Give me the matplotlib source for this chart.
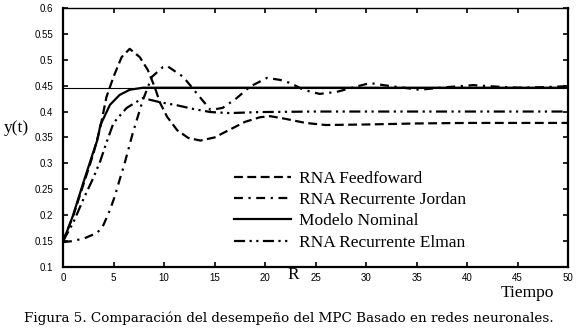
import matplotlib
matplotlib.use("Agg")
import matplotlib.pyplot as plt

# Values
t_ff = [0, 1, 2, 3, 3.7, 4.3, 5.0, 5.8, 6.6, 7.6, 8.4, 9.1, 9.6, 10.3, 11.3, 12.4,
        13.6, 15.0, 16.5, 18.0, 19.5, 20.5, 22.0, 24.0, 26.0, 30, 35, 40, 45, 50]
y_ff = [0.150, 0.198, 0.258, 0.318, 0.370, 0.428, 0.467, 0.505, 0.521, 0.505, 0.480,
        0.446, 0.417, 0.390, 0.364, 0.349, 0.344, 0.350, 0.365, 0.380, 0.389, 0.391,
        0.386, 0.378, 0.374, 0.375, 0.377, 0.378, 0.378, 0.378]

t_jor = [0, 1, 2.2, 3.4, 4.0, 4.65, 5.1, 5.6, 6.1, 6.9, 7.9, 8.8, 9.9, 10.3, 11.9,
         13.2, 14.6, 15.8, 17.2, 18.5, 20.2, 21.5, 22.5, 23.8, 25.4, 27.1, 28.8,
         30.4, 31.7, 33.7, 35.3, 37.3, 40.6, 43.0, 45.0, 47.5, 50]
y_jor = [0.148, 0.150, 0.156, 0.166, 0.181, 0.210, 0.235, 0.268, 0.300, 0.358, 0.422,
         0.467, 0.486, 0.488, 0.467, 0.436, 0.403, 0.407, 0.426, 0.448, 0.465, 0.461,
         0.455, 0.442, 0.434, 0.438, 0.447, 0.455, 0.451, 0.446, 0.442, 0.446, 0.451,
         0.448, 0.446, 0.447, 0.449]

t_nom = [0, 1, 2, 3, 3.4, 3.7, 4.65, 5.6, 6.6, 7.9, 9, 10, 20, 30, 40, 50]
y_nom = [0.148, 0.200, 0.262, 0.322, 0.345, 0.374, 0.413, 0.432, 0.442, 0.446,
         0.446, 0.446, 0.446, 0.446, 0.446, 0.446]

t_elm = [0, 1, 2, 3, 3.7, 4.3, 5.0, 6.3, 7.9, 9.6, 11.3, 12.9, 14.6, 16.5, 19.5,
         25, 30, 40, 50]
y_elm = [0.150, 0.185, 0.230, 0.272, 0.305, 0.340, 0.378, 0.407, 0.426, 0.418, 0.412,
         0.405, 0.399, 0.397, 0.399, 0.400, 0.400, 0.400, 0.400]

ref_level = 0.446

labels = ["RNA Feedfoward", "RNA Recurrente Jordan", "Modelo Nominal",
          "RNA Recurrente Elman"]
x_ticks = [0, 5, 10, 15, 20, 25, 30, 35, 40, 45, 50]
x_ticklabels = ["0", "5", "10", "15", "20", "25", "30", "35", "40", "45", "50"]
y_ticks = [0.1, 0.15, 0.2, 0.25, 0.3, 0.35, 0.4, 0.45, 0.5, 0.55, 0.6]
y_ticklabels = ["0.1", "0.15", "0.2", "0.25", "0.3", "0.35", "0.4", "0.45", "0.5",
                "0.55", "0.6"]

serif = ["Liberation Serif", "DejaVu Serif"]
sans = ["Liberation Sans", "DejaVu Sans"]

fig = plt.figure(figsize=(5.78, 3.30), dpi=100)
ax = fig.add_axes([0.109, 0.191, 0.874, 0.785])

ax.axhline(ref_level, color="black", linewidth=0.8)
ax.plot(t_ff, y_ff, color="black", linewidth=1.6, linestyle=(0, (4, 2)), label=labels[0])
ax.plot(t_jor, y_jor, color="black", linewidth=1.6, linestyle=(0, (4, 2.5, 1, 2.5)), label=labels[1])
ax.plot(t_nom, y_nom, color="black", linewidth=1.6, label=labels[2])
ax.plot(t_elm, y_elm, color="black", linewidth=1.6, linestyle=(0, (5, 2, 1, 2, 1, 2)), label=labels[3])

ax.set_xlim(0, 50)
ax.set_ylim(0.1, 0.6)
ax.set_xticks(x_ticks)
ax.set_xticklabels(x_ticklabels)
ax.set_yticks(y_ticks)
ax.set_yticklabels(y_ticklabels)
ax.tick_params(direction="in", length=3.5, width=1.2, top=True, right=True,
               labelsize=7, pad=4)
ax.tick_params(axis="y", pad=7)
for lab in ax.get_xticklabels() + ax.get_yticklabels():
    lab.set_family(sans)
for side in ["left", "bottom", "right"]:
    ax.spines[side].set_linewidth(1.6)
ax.spines["top"].set_linewidth(1.0)

leg = ax.legend(loc="upper left", bbox_to_anchor=(0.338, 0.372), frameon=False,
                borderpad=0, borderaxespad=0, handlelength=3.3, handletextpad=0.45,
                labelspacing=0.3, prop={"family": serif, "size": 12.5})

ax.text(-0.118, 0.535, "y(t)", transform=ax.transAxes, family=serif, fontsize=12.5,
        ha="left", va="center")
fig.text(0.507, 0.167, "R", family=serif, fontsize=12.5, ha="center", va="center")
fig.text(0.912, 0.112, "Tiempo", family=serif, fontsize=12.5, ha="center", va="center")
fig.text(0.499, 0.036, "Figura 5. Comparación del desempeño del MPC Basado en redes neuronales.",
         family=["DejaVu Serif"], fontsize=9.7, ha="center", va="center")

fig.savefig("out.png", dpi=100)
